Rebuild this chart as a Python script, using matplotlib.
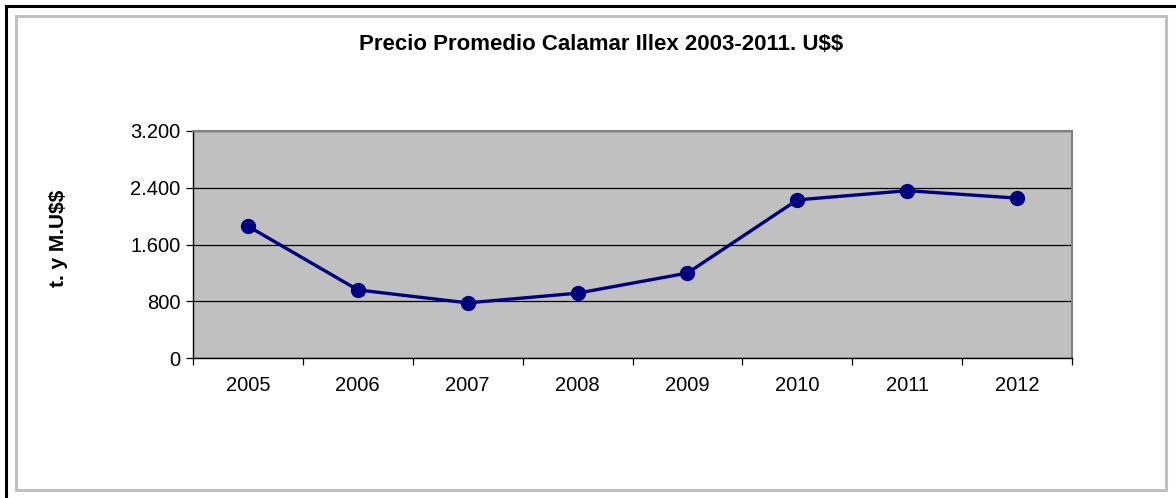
import numpy as np
import matplotlib.pyplot as plt
from matplotlib.patches import Rectangle
from matplotlib.lines import Line2D

plt.rcParams['font.family'] = ['Liberation Sans', 'DejaVu Sans']
plt.rcParams['text.parse_math'] = False

# Data
years = ['2005', '2006', '2007', '2008', '2009', '2010', '2011', '2012']
precio = [1860, 963, 780, 917, 1200, 2230, 2360, 2255]
y_ticks = [0, 800, 1600, 2400, 3200]
y_labels = ['0', '800', '1.600', '2.400', '3.200']

W, H = 1176, 498
fig = plt.figure(figsize=(W / 100, H / 100), dpi=100)

# outer frame: black top/left line, grey inner border
fig.add_artist(Line2D([6 / W, 6 / W], [0, 1 - 6 / H], color='black', lw=2.2))
fig.add_artist(Line2D([6 / W, 1], [1 - 6 / H, 1 - 6 / H], color='black', lw=2.2))
fig.add_artist(Rectangle((16 / W, 1 - 490 / H), (1166 - 16) / W, (490 - 16) / H,
                         fill=False, edgecolor='#c0c0c0', lw=2.2))

ax = fig.add_axes([193 / W, 1 - 358.3 / H, (1072 - 193) / W, (358.3 - 131) / H])
ax.set_facecolor('#c0c0c0')

x = np.arange(1, len(years) + 1)
ax.plot(x, precio, color='#000080', lw=2.4, marker='o', markersize=10,
        markerfacecolor='#000080', markeredgecolor='#000080', zorder=3)

ax.set_xlim(0.5, len(years) + 0.5)
ax.set_ylim(0, 3200)
ax.set_yticks(y_ticks)
ax.set_yticklabels(y_labels, fontsize=14.5)
ax.yaxis.grid(True, color='black', lw=0.9)
ax.set_axisbelow(True)

ax.set_xticks(np.arange(0.5, len(years) + 1, 1))
ax.set_xticklabels([])
ax.set_xticks(x, minor=True)
ax.set_xticklabels(years, minor=True, fontsize=14.5)
ax.tick_params(axis='x', which='minor', length=0, pad=13)
ax.tick_params(axis='x', which='major', length=5, width=0.9, direction='out')
ax.tick_params(axis='y', length=5, width=0.9, direction='out', pad=4)

for s in ['left', 'bottom']:
    ax.spines[s].set_color('black')
    ax.spines[s].set_linewidth(1.0)
for s in ['top', 'right']:
    ax.spines[s].set_color('#808080')
    ax.spines[s].set_linewidth(1.5)

fig.text(601 / W, 1 - 45 / H, 'Precio Promedio Calamar Illex 2003-2011. U$$',
         ha='center', va='center', fontsize=16, fontweight='bold')
fig.text(58 / W, 1 - 238 / H, 't. y M.U$$', rotation=90, ha='center', va='center',
         fontsize=15, fontweight='bold')

fig.savefig('out.png', dpi=100)
